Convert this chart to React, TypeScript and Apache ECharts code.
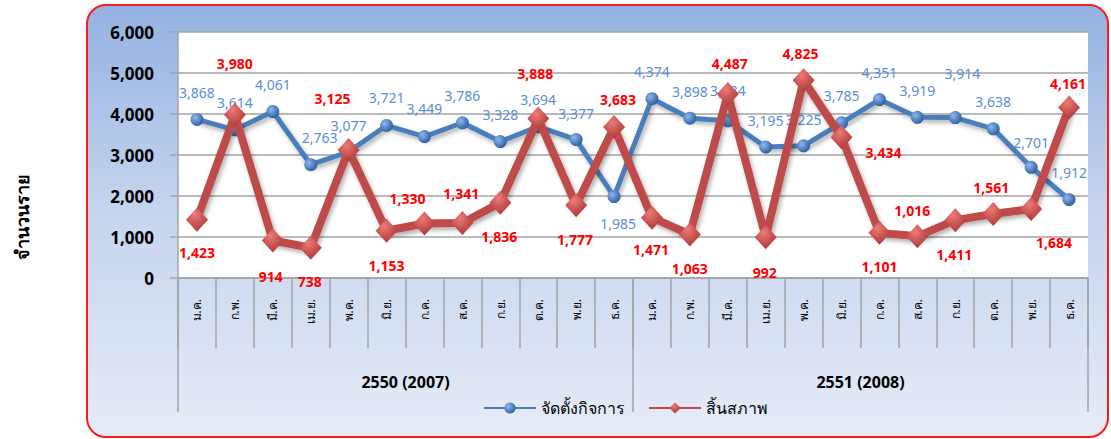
import React, { useEffect, useRef } from "react";
import * as echarts from "echarts";

// ---- data ----
const months = ["ม.ค.", "ก.พ.", "มี.ค.", "เม.ย.", "พ.ค.", "มิ.ย.", "ก.ค.", "ส.ค.", "ก.ย.", "ต.ค.", "พ.ย.", "ธ.ค."];
const yearLabels = ["2550 (2007)", "2551 (2008)"];
const registered2007 = [3868, 3614, 4061, 2763, 3077, 3721, 3449, 3786, 3328, 3694, 3377, 1985];
const registered2008 = [4374, 3898, 3834, 3195, 3225, 3785, 4351, 3919, 3914, 3638, 2701, 1912];
const dissolved2007 = [1423, 3980, 914, 738, 3125, 1153, 1330, 1341, 1836, 3888, 1777, 3683];
const dissolved2008 = [1471, 1063, 4487, 992, 4825, 3434, 1101, 1016, 1411, 1561, 1684, 4161];
const seriesNames = ["จัดตั้งกิจการ", "สิ้นสภาพ"];
const yAxisTitle = "จำนวนราย";

// label placement (pixel offsets of each data label from its marker)
const blueLabelOffsets: number[][] = [
  [0, -27], [0, -27], [0, -27], [9, -27], [0, -26], [0, -28], [0, -28], [0, -27], [0, -27], [0, -27], [0, -26], [4, 27],
  [0, -27], [0, -27], [0, -30], [0, -27], [0, -26], [0, -27], [0, -27], [0, -27], [7, -44], [0, -27], [0, -25], [0, -27],
];
const redLabelOffsets: number[][] = [
  [0, 33], [0, -51], [-2, 36], [-1, 34], [-16, -51], [0, 35], [-17, -25], [-1, -30], [-1, 34], [-3, -45], [-1, 34], [4, -27],
  [-1, 32], [0, 34], [2, -31], [-1, 35], [-3, -27], [42, 15], [0, 34], [-5, -26], [-1, 34], [-2, -26], [23, 34], [-1, -24],
];

const categories = [...months, ...months];
const registered = [...registered2007, ...registered2008];
const dissolved = [...dissolved2007, ...dissolved2008];

const FONT = "'Noto Sans', 'DejaVu Sans', sans-serif";
const fmt = (v: number) => v.toLocaleString("en-US");

export default function App() {
  const ref = useRef<HTMLDivElement>(null);
  useEffect(() => {
    if (!ref.current) return;
    const chart = echarts.init(ref.current, undefined, { renderer: "svg" });
    const gray = "#a3a3a3";
    const blueFill = new echarts.graphic.RadialGradient(0.35, 0.35, 0.7, [
      { offset: 0, color: "#8db7ee" },
      { offset: 1, color: "#2c5d9e" },
    ]);
    const redFill = new echarts.graphic.RadialGradient(0.4, 0.3, 0.8, [
      { offset: 0, color: "#ec7a76" },
      { offset: 1, color: "#a6302d" },
    ]);
    chart.setOption({
      animation: false,
      textStyle: { fontFamily: FONT },
      grid: { left: 178, right: 23, top: 32, bottom: 161, show: true, backgroundColor: "#ffffff", borderWidth: 0 },
      legend: {
        data: seriesNames,
        left: 478,
        top: 395,
        itemWidth: 52,
        itemHeight: 14,
        itemGap: 23,
        textStyle: { fontSize: 16, color: "#000", fontFamily: FONT },
      },
      graphic: [
        {
          type: "text",
          x: 22,
          y: 217,
          rotation: Math.PI / 2,
          style: {
            text: yAxisTitle,
            fontSize: 18,
            fontWeight: "bold",
            fill: "#000",
            fontFamily: FONT,
            align: "center",
            verticalAlign: "middle",
          },
        },
      ],
      xAxis: [
        {
          type: "category",
          data: categories,
          boundaryGap: true,
          axisLine: { show: true, lineStyle: { color: gray, width: 1.5 } },
          axisTick: { show: true, interval: 0, length: 70, alignWithLabel: false, lineStyle: { color: gray, width: 1.5 } },
          axisLabel: { interval: 0, rotate: 90, fontSize: 12, margin: 21, color: "#000", fontFamily: FONT },
          splitLine: { show: false },
        },
        {
          type: "category",
          data: yearLabels,
          position: "bottom",
          boundaryGap: true,
          axisLine: { show: false },
          axisTick: { show: true, interval: 0, length: 134, alignWithLabel: false, lineStyle: { color: gray, width: 1.5 } },
          axisLabel: { interval: 0, margin: 96, fontSize: 16, fontWeight: "bold", color: "#000", fontFamily: FONT },
          splitLine: { show: false },
        },
      ],
      yAxis: {
        type: "value",
        min: 0,
        max: 6000,
        interval: 1000,
        axisLine: { show: true, lineStyle: { color: gray, width: 1.5 } },
        axisTick: { show: true, length: 8, lineStyle: { color: gray, width: 1.5 } },
        axisLabel: { margin: 24, fontSize: 17, fontWeight: "bold", color: "#000", formatter: fmt, fontFamily: FONT },
        splitLine: { show: true, lineStyle: { color: gray, width: 1.5 } },
      },
      series: [
        {
          name: seriesNames[0],
          type: "line",
          xAxisIndex: 0,
          symbol: "circle",
          symbolSize: 13,
          lineStyle: {
            color: "#4a7ebb",
            width: 5,
            shadowColor: "rgba(0,0,0,0.3)",
            shadowBlur: 4,
            shadowOffsetX: 2,
            shadowOffsetY: 3,
          },
          itemStyle: { color: blueFill, borderWidth: 0 },
          label: {
            show: true,
            position: "inside",
            formatter: (p: any) => fmt(p.value),
            fontSize: 14,
            color: "#5b8ed6",
            fontFamily: FONT,
          },
          data: registered.map((v, i) => ({ value: v, label: { offset: blueLabelOffsets[i] } })),
          z: 2,
        },
        {
          name: seriesNames[1],
          type: "line",
          xAxisIndex: 0,
          symbol: "diamond",
          symbolSize: [22, 24],
          lineStyle: {
            color: "#be4b48",
            width: 8,
            shadowColor: "rgba(0,0,0,0.3)",
            shadowBlur: 4,
            shadowOffsetX: 2,
            shadowOffsetY: 3,
          },
          itemStyle: { color: redFill, borderWidth: 0 },
          label: {
            show: true,
            position: "inside",
            formatter: (p: any) => fmt(p.value),
            fontSize: 14,
            fontWeight: "bold",
            color: "#ff0000",
            fontFamily: FONT,
          },
          data: dissolved.map((v, i) => ({ value: v, label: { offset: redLabelOffsets[i] } })),
          z: 3,
        },
      ],
    });
    return () => chart.dispose();
  }, []);

  return (
    <div style={{ position: "fixed", left: 0, top: 0, width: 1111, height: 439, background: "#ffffff", overflow: "hidden" }}>
      <div
        style={{
          position: "absolute",
          left: 86,
          top: 4,
          width: 1023,
          height: 434,
          boxSizing: "border-box",
          border: "2px solid #ff1a1a",
          borderRadius: 20,
          background: "linear-gradient(to bottom, #94b2e0 0%, #c4d3ee 45%, #e6ebf6 100%)",
        }}
      />
      <div ref={ref} style={{ position: "absolute", left: 0, top: 0, width: 1111, height: 439 }} />
    </div>
  );
}
